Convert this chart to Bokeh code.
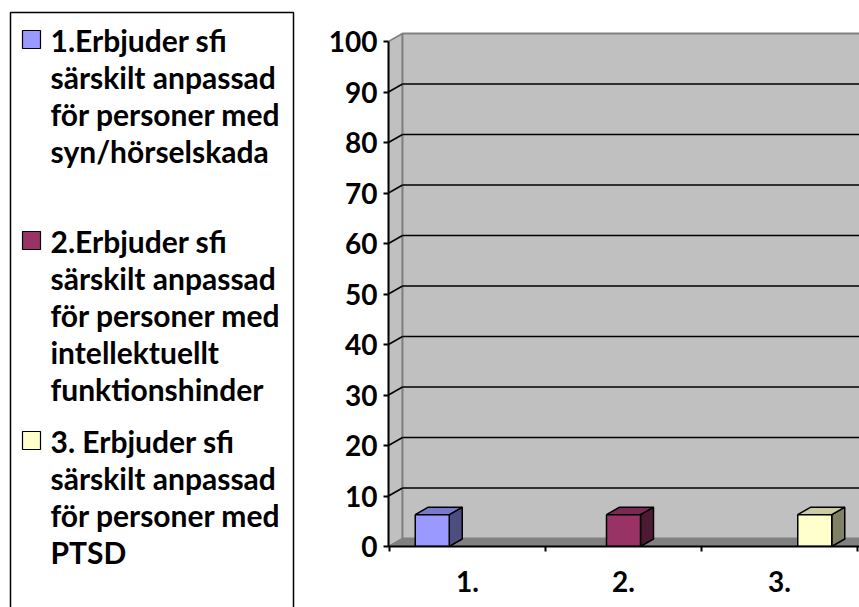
from bokeh.plotting import figure
from bokeh.layouts import row
from bokeh.models import Range1d, LinearAxis, FixedTicker
from bokeh.embed import file_html
from bokeh.resources import INLINE
from bokeh.core.properties import value

# ---------------- data ----------------
categories = ["1.", "2.", "3."]
series_labels = [
    ["1.Erbjuder sfi", "särskilt anpassad", "för personer med", "syn/hörselskada"],
    ["2.Erbjuder sfi", "särskilt anpassad", "för personer med", "intellektuellt", "funktionshinder"],
    ["3. Erbjuder sfi", "särskilt anpassad", "för personer med", "PTSD"],
]
series_1 = [6.3, 0, 0]
series_2 = [0, 6.3, 0]
series_3 = [0, 0, 6.3]
y_ticks = [0, 10, 20, 30, 40, 50, 60, 70, 80, 90, 100]

front_colors = ["#9999ff", "#993366", "#ffffcc"]
side_colors = ["#4d4d80", "#4d1a33", "#808066"]
top_colors = ["#7a7acc", "#7a2952", "#ccccA3"]

FONT = "Lato"

# ---------------- legend panel ----------------
leg = figure(width=300, height=607, x_range=Range1d(0, 300), y_range=Range1d(607, 0),
             output_backend="svg", toolbar_location=None, min_border=0,
             x_axis_type=None, y_axis_type=None, frame_align=False)
leg.grid.visible = False
leg.outline_line_color = None
leg.quad(left=10, right=293, top=12, bottom=650, fill_color=None,
         line_color="black", line_width=1.5)

entry_tops = [49, 250, 450]
text_shift = -10
line_gap = 37
tx, ty, tt = [], [], []
for lines, b in zip(series_labels, entry_tops):
    for i, ln in enumerate(lines):
        tx.append(50)
        ty.append(b + text_shift + i * line_gap)
        tt.append(ln)
leg.text(x=tx, y=ty, text=tt, text_font=value(FONT), text_font_style="bold",
         text_font_size="30px", text_baseline="alphabetic", text_align="left",
         text_color="black")
leg.quad(left=[22] * 3, right=[40] * 3,
         top=[b - 19 for b in entry_tops], bottom=[b - 1 for b in entry_tops],
         fill_color=front_colors, line_color="black", line_width=1.2)

# ---------------- chart panel ----------------
PX_PER_CAT = 156.0
PX_PER_UNIT = 5.05
X0 = -0.5 - 1 / PX_PER_CAT
X1 = X0 + 471 / PX_PER_CAT
Y1 = 518 / PX_PER_UNIT
DX = 14 / PX_PER_CAT
DY = 8 / PX_PER_UNIT
BDX = 13 / PX_PER_CAT
BDY = 7.5 / PX_PER_UNIT
BAR_W = 0.218
BAR_OFF = 0.226
XFAR = X1 + DX

p = figure(width=559, height=607, x_range=Range1d(X0, X1), y_range=Range1d(0, Y1),
           output_backend="svg", toolbar_location=None,
           min_border_left=88, min_border_right=0, min_border_top=28, min_border_bottom=61,
           x_axis_type=None, y_axis_type=None, frame_align=False)
p.grid.visible = False
p.outline_line_color = None

# walls and floor
p.patch([X0, X0 + DX, X0 + DX, X0], [0, DY, 100 + DY, 100],
        fill_color="#c0c0c0", line_color="#808080", line_width=1.5)
p.quad(left=X0 + DX, right=XFAR, bottom=DY, top=100 + DY,
       fill_color="#c0c0c0", line_color="#808080", line_width=2)
p.patch([X0, X0 + DX, XFAR, XFAR], [0, DY, DY, 0],
        fill_color="#808080", line_color="#808080")

grid_vals = [v for v in y_ticks if 0 < v < 100]
p.segment(x0=[X0 + DX] * len(grid_vals), y0=[v + DY for v in grid_vals],
          x1=[XFAR] * len(grid_vals), y1=[v + DY for v in grid_vals],
          line_color="black", line_width=1.6)
p.segment(x0=[X0] * len(grid_vals), y0=grid_vals,
          x1=[X0 + DX] * len(grid_vals), y1=[v + DY for v in grid_vals],
          line_color="black", line_width=1.6)

# bars
all_series = [series_1, series_2, series_3]
for s, vals in enumerate(all_series):
    for c, v in enumerate(vals):
        if not v:
            continue
        xc = c + (s - 1) * BAR_OFF
        l, r = xc - BAR_W / 2, xc + BAR_W / 2
        p.patch([r, r + BDX, r + BDX, r], [0, BDY, v + BDY, v],
                fill_color=side_colors[s], line_color="black", line_width=1.5)
        p.patch([l, l + BDX, r + BDX, r], [v, v + BDY, v + BDY, v],
                fill_color=top_colors[s], line_color="black", line_width=1.5)
        p.quad(left=l, right=r, bottom=0, top=v,
               fill_color=front_colors[s], line_color="black", line_width=1.5)

# axes
yax = LinearAxis(ticker=FixedTicker(ticks=y_ticks), bounds=(0, 100))
yax.axis_line_width = 2
yax.major_tick_line_width = 2
yax.major_tick_out = 5
yax.major_tick_in = 0
yax.minor_tick_line_color = None
yax.major_label_standoff = 6
yax.major_label_text_font = FONT
yax.major_label_text_font_style = "bold"
yax.major_label_text_font_size = "28px"
yax.major_label_text_color = "black"
p.add_layout(yax, "left")

xax = LinearAxis(ticker=FixedTicker(ticks=[0, 1, 2], minor_ticks=[-0.5, 0.5, 1.5, 2.5]),
                 major_label_overrides={i: lab for i, lab in enumerate(categories)})
xax.axis_line_width = 2
xax.major_tick_line_color = None
xax.major_tick_out = 5
xax.minor_tick_line_width = 2
xax.minor_tick_out = 5
xax.minor_tick_in = 0
xax.major_label_standoff = 19
xax.major_label_text_font = FONT
xax.major_label_text_font_style = "bold"
xax.major_label_text_font_size = "28px"
xax.major_label_text_color = "black"
p.add_layout(xax, "below")

layout = row(leg, p, spacing=0)
open("out.html", "w").write(file_html(layout, INLINE))
